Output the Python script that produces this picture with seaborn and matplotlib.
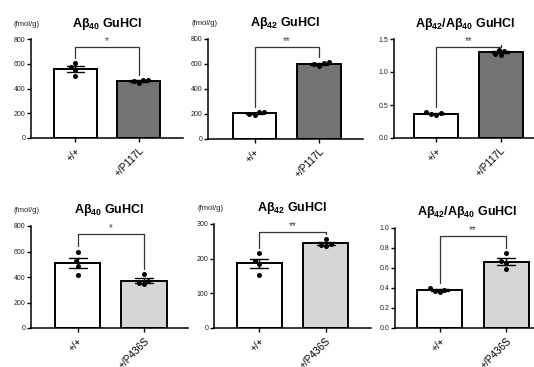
import seaborn as sns
import matplotlib.pyplot as plt
import pandas as pd
import numpy as np

# genotypes
groups_top = ["+/+", "+/P117L"]
groups_bot = ["+/+", "+/P436S"]

# top row (P117L), fmol/g
ab40_wt_a = [610, 500, 570, 548]
ab40_mut_a = [470, 445, 462, 472]
ab42_wt_a = [212, 190, 198, 218]
ab42_mut_a = [605, 585, 598, 615]
ratio_wt_a = [0.38, 0.35, 0.36, 0.39]
ratio_mut_a = [1.32, 1.26, 1.28, 1.34]

# bottom row (P436S)
ab40_wt_b = [600, 528, 490, 412]
ab40_mut_b = [422, 368, 352, 346]
ab42_wt_b = [216, 194, 185, 153]
ab42_mut_b = [257, 243, 237, 240]
ratio_wt_b = [0.40, 0.37, 0.36, 0.385]
ratio_mut_b = [0.75, 0.667, 0.65, 0.59]

stars = ["*", "**", "**", "*", "**", "**"]

t40 = r"A$\beta_{\mathbf{40}}$ GuHCl"
t42 = r"A$\beta_{\mathbf{42}}$ GuHCl"
tratio = r"A$\beta_{\mathbf{42}}$/A$\beta_{\mathbf{40}}$ GuHCl"

panels = [
    (t40, groups_top, ab40_wt_a, ab40_mut_a, [0, 200, 400, 600, 800], "%d", True),
    (t42, groups_top, ab42_wt_a, ab42_mut_a, [0, 200, 400, 600, 800], "%d", True),
    (tratio, groups_top, ratio_wt_a, ratio_mut_a, [0, 0.5, 1.0, 1.5], "%.1f", False),
    (t40, groups_bot, ab40_wt_b, ab40_mut_b, [0, 200, 400, 600, 800], "%d", True),
    (t42, groups_bot, ab42_wt_b, ab42_mut_b, [0, 100, 200, 300], "%d", True),
    (tratio, groups_bot, ratio_wt_b, ratio_mut_b, [0, 0.2, 0.4, 0.6, 0.8, 1.0], "%.1f", False),
]

W, H = 534, 367
# axes in pixels: left, top (ymax), bottom (y=0), width ; xlim
rects = [
    (31, 39, 138, 152, (-0.70, 1.70)),
    (208, 39, 139, 155, (-0.72, 1.68)),
    (394, 39, 138, 155, (-0.65, 1.75)),
    (31, 226, 328, 157, (-0.70, 1.66)),
    (214, 224, 328, 157, (-0.68, 1.68)),
    (395, 228, 328, 160, (-0.67, 1.73)),
]
mut_colors = ["#737373"] * 3 + ["#d6d6d6"] * 3
title_x = [0.5, 0.5, 0.46, 0.5, 0.5, 0.45]

sns.set_style("ticks")
plt.rcParams["font.family"] = ["Liberation Sans", "DejaVu Sans"]
plt.rcParams["mathtext.fontset"] = "custom"
plt.rcParams["mathtext.rm"] = "Liberation Sans:bold"
plt.rcParams["mathtext.it"] = "Liberation Sans:bold"
plt.rcParams["mathtext.bf"] = "Liberation Sans:bold"
for k in ["text.color", "axes.edgecolor", "xtick.color", "ytick.color",
          "axes.labelcolor"]:
    plt.rcParams[k] = "black"

fig = plt.figure(figsize=(W / 100, H / 100), dpi=100)

for i, (title, groups, wt, mut, yt, fmt, unit) in enumerate(panels):
    l, t, b, w, xl = rects[i]
    ax = fig.add_axes([l / W, 1 - b / H, w / W, (b - t) / H])
    df = pd.DataFrame({"group": [groups[0]] * len(wt) + [groups[1]] * len(mut),
                       "value": wt + mut})
    sns.barplot(data=df, x="group", y="value", hue="group", order=groups,
                palette=["white", mut_colors[i]], errorbar="se", capsize=0.27,
                err_kws={"linewidth": 1.0, "color": "black"}, edgecolor="black",
                linewidth=1.4, width=0.68, legend=False, ax=ax, zorder=2)
    sns.swarmplot(data=df, x="group", y="value", order=groups, color="black",
                  size=3.6, ax=ax, zorder=3)
    ymax = yt[-1]
    ax.set_ylim(0, ymax)
    ax.set_xlim(*xl)
    ax.set_yticks(yt)
    ax.set_yticklabels([fmt % v for v in yt], fontsize=5, color="#222222")
    ax.set_xticks([0, 1])
    ax.set_xticklabels(groups, rotation=45, ha="right", rotation_mode="anchor",
                       fontsize=7.2)
    ax.tick_params(axis="y", length=3, width=1, pad=1)
    ax.tick_params(axis="x", length=3, width=1, pad=2.5)
    ax.set_xlabel("")
    ax.set_ylabel("")
    for s in ["top", "right"]:
        ax.spines[s].set_visible(False)
    for s in ["left", "bottom"]:
        ax.spines[s].set_linewidth(1.1)
    ax.set_title(title, fontsize=9, fontweight="bold", x=title_x[i], pad=9)
    if unit:
        ax.annotate("(fmol/g)", xy=(0, 1), xycoords="axes fraction",
                    xytext=(-4, 15), textcoords="offset pixels",
                    ha="center", va="center", fontsize=5.5, color="#222222")

    # significance bracket
    tops = []
    for vals in (wt, mut):
        v = np.array(vals, dtype=float)
        sem = v.std(ddof=1) / np.sqrt(len(v))
        tops.append(max(v.max(), v.mean() + sem))
    yb = ymax * 0.92
    pad = ymax * 0.05
    ax.plot([0, 0, 1, 1], [tops[0] + pad, yb, yb, tops[1] + pad],
            color="#333333", linewidth=0.9, clip_on=False, zorder=4)
    ax.text(0.5, yb + ymax * 0.01, stars[i], ha="center", va="bottom",
            fontsize=7, color="#444444")

fig.savefig("out.png", dpi=100)
